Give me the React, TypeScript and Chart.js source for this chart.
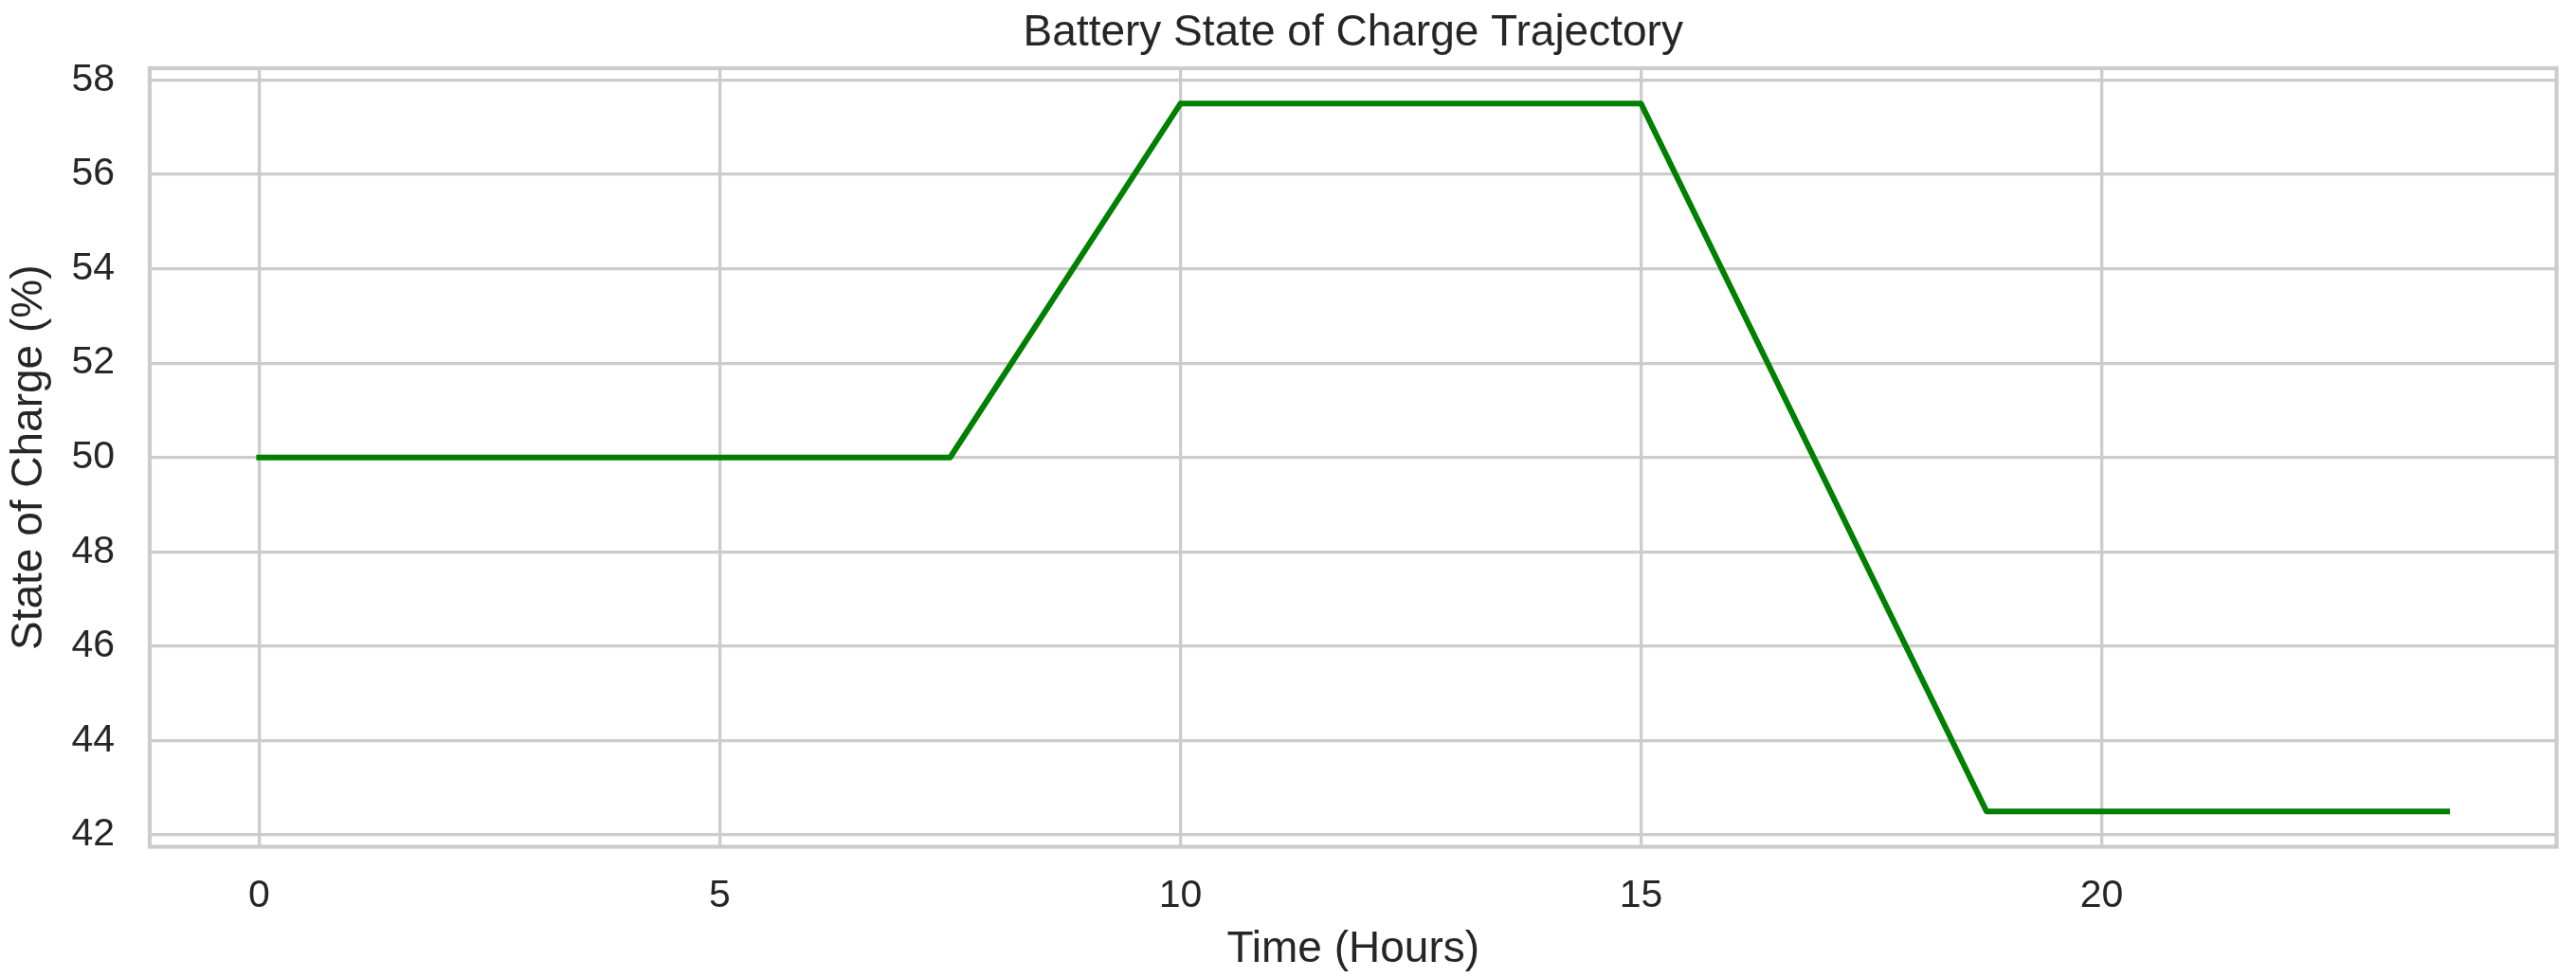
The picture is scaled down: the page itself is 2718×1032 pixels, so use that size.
import React, { useEffect, useRef } from "react";
import { Chart, registerables } from "chart.js";

Chart.register(...registerables);

// ---- Data ----
const timeHours = [0, 7.5, 10, 15, 18.75, 23.75];
const stateOfCharge = [50, 50, 57.5, 57.5, 42.5, 42.5];
const xTickValues = [0, 5, 10, 15, 20];
const yTickValues = [42, 44, 46, 48, 50, 52, 54, 56, 58];

const TITLE = "Battery State of Charge Trajectory";
const X_LABEL = "Time (Hours)";
const Y_LABEL = "State of Charge (%)";

// ---- Style ----
const FONT = '"Liberation Sans", Arial, Helvetica, sans-serif';
const TEXT = "#262626";
const GRID = "#cccccc";
const LINE = "#008000";
const W = 2718;
const H = 1032;

// matplotlib-like 5% margins
const pad = (lo: number, hi: number) => (hi - lo) * 0.05;
const xLo = Math.min(...timeHours);
const xHi = Math.max(...timeHours);
const yLo = Math.min(...stateOfCharge);
const yHi = Math.max(...stateOfCharge);
const xMin = xLo - pad(xLo, xHi);
const xMax = xHi + pad(xLo, xHi);
const yMin = yLo - pad(yLo, yHi);
const yMax = yHi + pad(yLo, yHi);

const framePlugin = {
  id: "frameSpines",
  afterDatasetsDraw(chart: any) {
    const { ctx, chartArea } = chart;
    const { left, top, right, bottom } = chartArea;
    ctx.save();
    ctx.strokeStyle = GRID;
    ctx.lineWidth = 4.2;
    ctx.lineJoin = "miter";
    ctx.strokeRect(left, top, right - left, bottom - top);
    ctx.restore();
  },
};

const axesTitlePlugin = {
  id: "axesTitle",
  afterDraw(chart: any) {
    const { ctx, chartArea } = chart;
    ctx.save();
    ctx.font = `46px ${FONT}`;
    ctx.fillStyle = TEXT;
    ctx.textAlign = "center";
    ctx.textBaseline = "alphabetic";
    ctx.fillText(TITLE, (chartArea.left + chartArea.right) / 2, 48);
    ctx.restore();
  },
};

export default function App() {
  const canvasRef = useRef<HTMLCanvasElement | null>(null);

  useEffect(() => {
    if (!canvasRef.current) return;
    const chart = new Chart(canvasRef.current, {
      type: "line",
      data: {
        datasets: [
          {
            label: "SoC",
            data: timeHours.map((t, i) => ({ x: t, y: stateOfCharge[i] })),
            borderColor: LINE,
            backgroundColor: LINE,
            borderWidth: 6,
            pointRadius: 0,
            pointHoverRadius: 0,
            tension: 0,
            fill: false,
            borderCapStyle: "square",
            borderJoinStyle: "round",
          },
        ],
      },
      plugins: [framePlugin, axesTitlePlugin],
      options: {
        animation: false,
        responsive: false,
        devicePixelRatio: 1,
        events: [],
        layout: { padding: { top: 72, right: 20.5, left: 0, bottom: 0 } },
        plugins: {
          legend: { display: false },
          title: { display: false },
          tooltip: { enabled: false },
        },
        scales: {
          x: {
            type: "linear",
            min: xMin,
            max: xMax,
            afterBuildTicks: (s: any) => {
              s.ticks = xTickValues.map((v) => ({ value: v }));
            },
            afterFit: (s: any) => {
              s.height = 138.5;
            },
            grid: { color: GRID, lineWidth: 3.3, drawTicks: false },
            border: { display: false },
            ticks: {
              autoSkip: false,
              maxRotation: 0,
              padding: 27.4,
              color: TEXT,
              font: { family: FONT, size: 41 },
              callback: (v: any) => String(v),
            },
            title: {
              display: true,
              text: X_LABEL,
              color: TEXT,
              font: { family: FONT, size: 46 },
              padding: { top: 0, bottom: 2.4 },
            },
          },
          y: {
            type: "linear",
            min: yMin,
            max: yMax,
            afterBuildTicks: (s: any) => {
              s.ticks = yTickValues.map((v) => ({ value: v }));
            },
            afterFit: (s: any) => {
              s.width = 158;
            },
            grid: { color: GRID, lineWidth: 3.3, drawTicks: false },
            border: { display: false },
            ticks: {
              autoSkip: false,
              padding: 37,
              color: TEXT,
              font: { family: FONT, size: 41 },
              callback: (v: any) => String(v),
            },
            title: {
              display: true,
              text: Y_LABEL,
              color: TEXT,
              font: { family: FONT, size: 46 },
              padding: { top: 3.4, bottom: 0 },
            },
          },
        },
      },
    } as any);
    return () => chart.destroy();
  }, []);

  return (
    <div
      style={{
        position: "absolute",
        left: 0,
        top: 0,
        width: W,
        height: H,
        background: "#ffffff",
      }}
    >
      <canvas
        ref={canvasRef}
        width={W}
        height={H}
        style={{ width: W, height: H, display: "block" }}
      />
    </div>
  );
}
